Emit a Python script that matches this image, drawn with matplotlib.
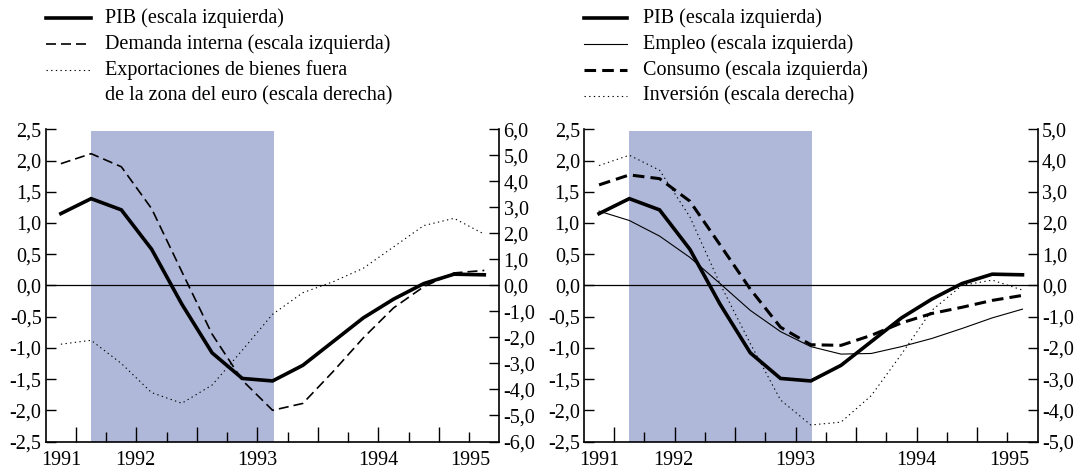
import numpy as np
import matplotlib.pyplot as plt
from matplotlib.lines import Line2D

plt.rcParams['font.family'] = ['Liberation Serif', 'DejaVu Serif']

# datos trimestrales (15 trimestres)
pib = [1.15, 1.39, 1.21, 0.58, -0.30, -1.08, -1.49, -1.53, -1.28, -0.90, -0.52, -0.22, 0.03, 0.18, 0.17]
demanda = [1.95, 2.11, 1.90, 1.23, 0.22, -0.78, -1.52, -2.00, -1.89, -1.38, -0.84, -0.36, -0.02, 0.20, 0.24]
exportaciones = [-2.26, -2.11, -3.00, -4.12, -4.53, -3.83, -2.49, -1.11, -0.28, 0.14, 0.66, 1.48, 2.30, 2.58, 1.97]

empleo = [1.19, 1.04, 0.79, 0.45, 0.03, -0.40, -0.74, -0.98, -1.10, -1.09, -0.98, -0.85, -0.69, -0.52, -0.38]
consumo = [1.61, 1.77, 1.71, 1.35, 0.65, -0.06, -0.67, -0.95, -0.96, -0.80, -0.60, -0.45, -0.35, -0.24, -0.16]
inversion = [3.84, 4.17, 3.69, 2.20, 0.05, -1.86, -3.67, -4.47, -4.38, -3.53, -2.20, -0.80, 0.00, 0.17, -0.15]

years = ['1991', '1992', '1993', '1994', '1995']
year_label_x = [0.0, 2.45, 6.5, 10.5, 13.55]
recesion = (1.0, 7.05)

x = np.arange(len(pib))
FS = 14.5
shade = '#b0b8d9'


def fmt(v):
    return f'{v:.1f}'.replace('.', ',')


def setup(ax, ax2, rlim, rstep):
    ax.set_xlim(-0.5, len(pib) - 0.5)
    ax.set_ylim(-2.5, 2.5)
    ax2.set_ylim(-rlim, rlim)
    lt = np.arange(-2.5, 2.51, 0.5)
    ax.set_yticks(lt)
    ax.set_yticklabels([fmt(v) for v in lt], fontsize=FS)
    rt = np.arange(-rlim, rlim + 0.01, rstep)
    ax2.set_yticks(rt)
    ax2.set_yticklabels([fmt(v) for v in rt], fontsize=FS)
    ax.set_xticks(np.arange(0.5, len(pib) - 1, 2))
    ax.set_xticks(np.arange(1.5, len(pib) - 1, 2), minor=True)
    ax.set_xticklabels([])
    ax.tick_params(axis='x', which='major', direction='in', length=11, width=1.0)
    ax.tick_params(axis='x', which='minor', direction='in', length=7, width=1.0)
    ax.tick_params(axis='y', direction='in', length=7, width=1.0, pad=3)
    ax2.tick_params(axis='y', direction='in', length=7, width=1.0, pad=3)
    for s in ['top', 'right']:
        ax.spines[s].set_visible(False)
    for s in ['top', 'left', 'bottom']:
        ax2.spines[s].set_visible(False)
    for sp in [ax.spines['left'], ax.spines['bottom'], ax2.spines['right']]:
        sp.set_linewidth(1.2)
    ax.axvspan(recesion[0], recesion[1], ymin=0, ymax=0.994, color=shade, lw=0, zorder=0)
    ax.axhline(0, color='black', lw=0.9, zorder=1)
    for xp, yl in zip(year_label_x, years):
        ax.text(xp, -0.03, yl, transform=ax.get_xaxis_transform(),
                ha='center', va='top', fontsize=FS)


def legend(fig, x0, x1, xt, rows):
    W, H = 1084, 472
    for y, label, kw in rows:
        if kw is not None:
            fig.add_artist(Line2D([x0 / W, x1 / W], [1 - y / H, 1 - y / H], **kw))
        fig.text(xt / W, 1 - y / H, label, ha='left', va='center', fontsize=FS)


fig = plt.figure(figsize=(10.84, 4.72), dpi=100)
axL = fig.add_axes([0.0422, 0.0646, 0.4185, 0.6614])
axL2 = axL.twinx()
axR = fig.add_axes([0.5387, 0.0646, 0.4185, 0.6614])
axR2 = axR.twinx()

st_pib = dict(color='black', lw=2.6, solid_joinstyle='miter')
st_dem = dict(color='black', lw=1.2, dashes=(6, 3))
st_dot = dict(color='black', lw=0.8, dashes=(1.2, 3))
st_emp = dict(color='black', lw=0.8)
st_con = dict(color='black', lw=2.2, dashes=(3.8, 2.0))

# panel izquierdo
setup(axL, axL2, 6, 1)
axL.plot(x, demanda, zorder=3, **st_dem)
axL.plot(x, pib, zorder=4, **st_pib)
axL2.plot(x, exportaciones, **st_dot)

# panel derecho
setup(axR, axR2, 5, 1)
axR.plot(x, empleo, zorder=3, **st_emp)
axR.plot(x, consumo, zorder=3, **st_con)
axR.plot(x, pib, zorder=4, **st_pib)
axR2.plot(x, inversion, **st_dot)

legend(fig, 46, 91, 105, [
    (18, 'PIB (escala izquierda)', st_pib),
    (44, 'Demanda interna (escala izquierda)', st_dem),
    (70, 'Exportaciones de bienes fuera', st_dot),
    (96, 'de la zona del euro (escala derecha)', None),
])
legend(fig, 584, 627, 643, [
    (18, 'PIB (escala izquierda)', st_pib),
    (44, 'Empleo (escala izquierda)', st_emp),
    (70, 'Consumo (escala izquierda)', st_con),
    (96, 'Inversión (escala derecha)', st_dot),
])

fig.savefig('out.png', dpi=100)
